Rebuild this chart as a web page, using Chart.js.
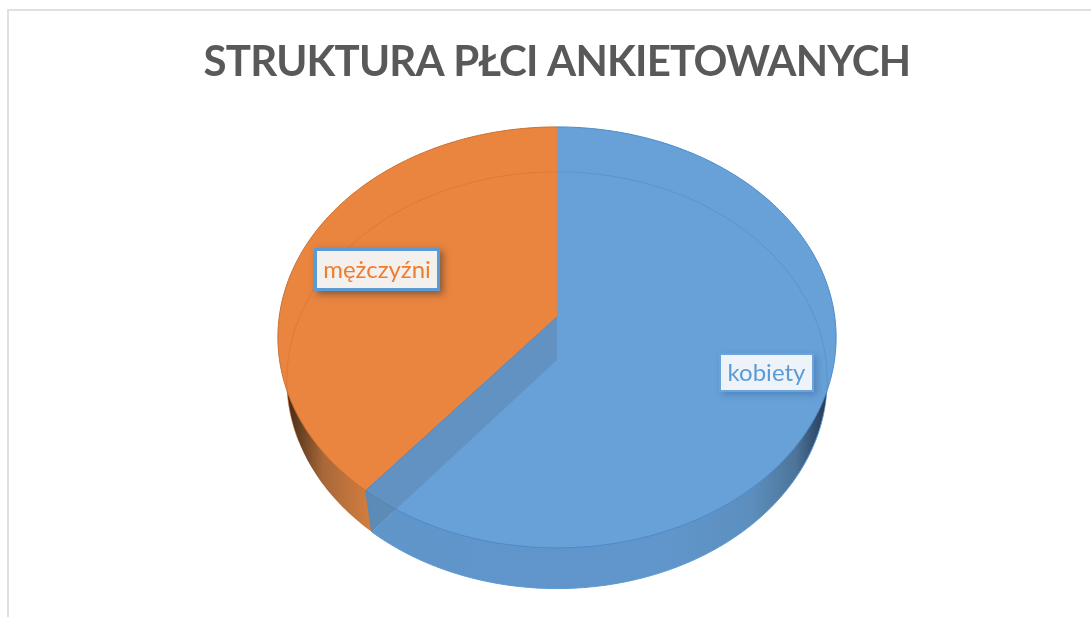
<!DOCTYPE html>
<html lang="pl">
<head>
    <meta charset="UTF-8">
    <title>Struktura płci ankietowanych</title>
    <script src="https://cdn.jsdelivr.net/npm/chart.js"></script>
    <style>
        body { margin: 0; background: #fff; overflow: hidden; }
        .frame { position: absolute; left: 7px; top: 9px; right: 0; bottom: 0; border-left: 2px solid #e0e0e0; border-top: 2px solid #e0e0e0; }
        canvas { position: absolute; left: 0; top: 0; }
    </style>
</head>
<body>
    <div class="frame"></div>
    <canvas id="pieChart" width="1091" height="617"></canvas>
    <script>
        const chartTitle = 'STRUKTURA PŁCI ANKIETOWANYCH';
        const categories = ['kobiety', 'mężczyźni'];
        const shares = [61, 39];
        const topColors = ['#68a1d7', '#ea8540'];

        // perspective of the tilted disc
        const PERSP = -0.0974, KX = 1.319, KY = 0.99, APEX_LIFT = 20.5, DEPTH = 43;

        function project(arc, angle, bottom) {
            const f = 1 + PERSP * Math.sin(angle);
            const apexY = arc.y - APEX_LIFT;
            let x = KX * arc.outerRadius * Math.cos(angle) / f;
            let y = KY * arc.outerRadius * Math.sin(angle) / f;
            if (bottom) {
                x *= 0.968;
                y = y * 0.99 + DEPTH;
            }
            return { x: arc.x + x, y: apexY + y };
        }

        function traceRim(ctx, arc, from, to, bottom, moveFirst) {
            const steps = Math.max(2, Math.ceil(Math.abs(to - from) * 60));
            for (let i = 0; i <= steps; i++) {
                const p = project(arc, from + (to - from) * i / steps, bottom);
                if (i === 0 && moveFirst) ctx.moveTo(p.x, p.y);
                else ctx.lineTo(p.x, p.y);
            }
        }

        function sideGradient(ctx, arc, stops) {
            const w = KX * arc.outerRadius;
            const g = ctx.createLinearGradient(arc.x - w, 0, arc.x + w, 0);
            stops.forEach(s => g.addColorStop(s[0], s[1]));
            return g;
        }

        const pie3d = {
            id: 'pie3d',
            beforeDraw(chart) {
                // narrows the title to the reference width
                chart.ctx.letterSpacing = '-0.8px';
            },
            beforeDatasetDraw(chart) {
                const ctx = chart.ctx;
                ctx.letterSpacing = '0px';
                const [blue, orange] = chart.getDatasetMeta(0).data;
                const apex = { x: blue.x, y: blue.y - APEX_LIFT };
                const apexLow = { x: blue.x, y: blue.y - APEX_LIFT + DEPTH };
                const a = orange.startAngle;
                const t = project(orange, a, false), b = project(orange, a, true);

                ctx.save();

                // lower disc, only its front part stays visible as the wall
                ctx.beginPath();
                ctx.moveTo(apexLow.x, apexLow.y);
                traceRim(ctx, orange, orange.startAngle, orange.endAngle, true, false);
                ctx.closePath();
                ctx.fillStyle = sideGradient(ctx, orange, [[0, '#2e1c0e'], [0.03, '#5c3a1e'], [0.08, '#a9683a'], [0.16, '#d27c3e'], [1, '#d27c3e']]);
                ctx.fill();

                ctx.beginPath();
                ctx.moveTo(apexLow.x, apexLow.y);
                traceRim(ctx, blue, blue.startAngle, blue.endAngle, true, false);
                ctx.closePath();
                const blueSide = sideGradient(ctx, blue, [[0, '#5f95c9'], [0.7, '#6096cb'], [0.85, '#5c8fbe'], [0.93, '#4d7499'], [0.97, '#30496a'], [1, '#1c2c3e']]);
                ctx.fillStyle = blueSide;
                ctx.fill();
                ctx.strokeStyle = '#5b9bd5';
                ctx.lineWidth = 1;
                ctx.beginPath();
                traceRim(ctx, blue, 0.25, blue.endAngle, true, true);
                ctx.stroke();

                // base of the cut wall, belongs to the blue slice
                ctx.beginPath();
                ctx.moveTo(apex.x, apex.y);
                ctx.lineTo(t.x, t.y);
                ctx.lineTo(b.x, b.y);
                ctx.lineTo(apexLow.x, apexLow.y);
                ctx.closePath();
                ctx.fillStyle = blueSide;
                ctx.fill();

                // top faces
                [blue, orange].forEach((arc, i) => {
                    ctx.beginPath();
                    ctx.moveTo(apex.x, apex.y);
                    traceRim(ctx, arc, arc.startAngle, arc.endAngle, false, false);
                    ctx.closePath();
                    ctx.fillStyle = topColors[i];
                    ctx.fill();
                });

                // rims of the top face
                ctx.lineWidth = 1;
                ctx.strokeStyle = '#c8702f';
                ctx.beginPath();
                traceRim(ctx, orange, orange.startAngle, orange.endAngle, false, true);
                ctx.stroke();
                ctx.strokeStyle = '#4a8bcb';
                ctx.beginPath();
                traceRim(ctx, blue, blue.startAngle, blue.endAngle, false, true);
                ctx.stroke();

                // the cut wall shows through the blue slice
                ctx.beginPath();
                ctx.moveTo(apex.x, apex.y);
                ctx.lineTo(t.x, t.y);
                ctx.lineTo(b.x, b.y);
                ctx.lineTo(apexLow.x, apexLow.y);
                ctx.closePath();
                ctx.fillStyle = 'rgba(90, 125, 160, 0.4)';
                ctx.fill();
                ctx.strokeStyle = 'rgba(70, 135, 205, 0.7)';
                ctx.beginPath();
                ctx.moveTo(apex.x, apex.y);
                ctx.lineTo(t.x, t.y);
                ctx.lineTo(b.x, b.y);
                ctx.stroke();

                // back rim of the lower disc, seen through the top
                ctx.strokeStyle = 'rgba(216, 108, 40, 0.55)';
                ctx.beginPath();
                traceRim(ctx, orange, 2.75, orange.endAngle, true, true);
                ctx.stroke();
                ctx.strokeStyle = 'rgba(80, 140, 205, 0.6)';
                ctx.beginPath();
                traceRim(ctx, blue, blue.startAngle, 0.25, true, true);
                ctx.stroke();

                ctx.restore();
                return false;
            },
            afterDatasetsDraw(chart) {
                drawLabel(chart.ctx, categories[1], 314, 248, 126, 43, {
                    fill: '#f4f0ee', border: '#5b9bd5', text: '#ed7d31', shadow: 'rgba(50, 50, 50, 0.55)', width: 3
                });
                drawLabel(chart.ctx, categories[0], 719, 353, 95, 39, {
                    fill: '#eef3fa', border: '#6ba4da', text: '#5b9bd5', shadow: 'rgba(40, 90, 150, 0.4)', width: 2
                });
            }
        };

        function drawLabel(ctx, text, x, y, w, h, style) {
            ctx.save();
            ctx.shadowColor = style.shadow;
            ctx.shadowBlur = 7;
            ctx.shadowOffsetX = 3;
            ctx.shadowOffsetY = 3;
            ctx.fillStyle = style.border;
            ctx.fillRect(x, y, w, h);
            ctx.restore();
            ctx.fillStyle = style.fill;
            ctx.fillRect(x + style.width, y + style.width, w - 2 * style.width, h - 2 * style.width);
            ctx.fillStyle = style.text;
            ctx.font = '24px Lato';
            ctx.textAlign = 'center';
            ctx.textBaseline = 'middle';
            ctx.fillText(text, x + w / 2, y + h / 2 + 1);
        }

        new Chart(document.getElementById('pieChart').getContext('2d'), {
            type: 'pie',
            data: {
                labels: categories,
                datasets: [{ data: shares, backgroundColor: topColors, borderWidth: 0, hoverOffset: 0 }]
            },
            options: {
                responsive: false,
                animation: false,
                events: [],
                layout: { padding: { left: 23, bottom: 69 } },
                plugins: {
                    legend: { display: false },
                    tooltip: { enabled: false },
                    title: {
                        display: true,
                        text: chartTitle,
                        color: '#595959',
                        font: { family: 'Lato', size: 42, weight: 'bold' },
                        padding: { top: 37, bottom: 39.4 }
                    }
                }
            },
            plugins: [pie3d]
        });
    </script>
</body>
</html>
